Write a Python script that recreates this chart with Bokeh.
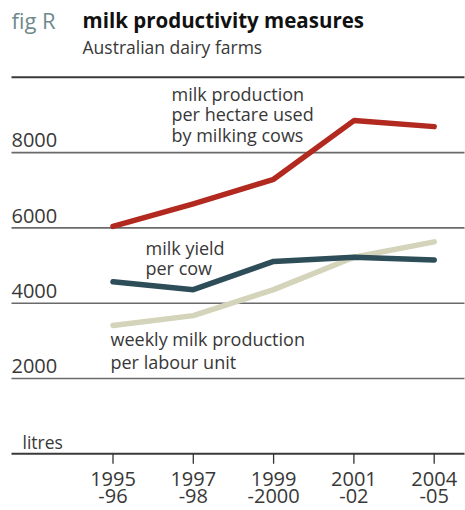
from bokeh.plotting import figure
from bokeh.models import Range1d
from bokeh.core.properties import value
from bokeh.embed import file_html
from bokeh.resources import INLINE

# Data
periods_top = ["1995", "1997", "1999", "2001", "2004"]
periods_bottom = ["-96", "-98", "-2000", "-02", "-05"]
per_hectare = [6040, 6640, 7290, 8850, 8690]
per_cow = [4570, 4360, 5110, 5220, 5150]
per_labour = [3410, 3670, 4360, 5220, 5630]
y_ticks = [2000, 4000, 6000, 8000]
y_labels = ["2000", "4000", "6000", "8000"]
grid_values = [0, 2000, 4000, 6000, 8000, 10000]

FONT = "Open Sans"
W, H = 465, 510

# Pixel layout of the plotting region mapped into data space
px0, px_step = 112.5, 80.3        # x pixel of first period, spacing
py0, py_per_1000 = 453.3, 37.65   # y pixel of zero, pixels per 1000 litres

def xd(px):
    return (px - px0) / px_step

def yd(py):
    return (py0 - py) / py_per_1000 * 1000

p = figure(width=W, height=H, output_backend="svg", toolbar_location=None,
           x_range=Range1d(xd(0), xd(W)), y_range=Range1d(yd(H), yd(0)),
           min_border=0, outline_line_color=None)
p.axis.visible = False
p.grid.visible = False
p.background_fill_color = "white"
p.border_fill_color = "white"

xs = list(range(len(periods_top)))

# Horizontal rules
left_x = xd(11)
right_x = xd(464)
for g in grid_values:
    col = "#3a3a3a" if g in (0, 10000) else "#6a6a6a"
    w = 2 if g in (0, 10000) else 1.6
    p.segment(x0=left_x, y0=g, x1=right_x, y1=g, line_color=col, line_width=w)

# Tick marks below the baseline
tick_len = 10 / py_per_1000 * 1000
p.segment(x0=xs, y0=[0] * len(xs), x1=xs, y1=[-tick_len] * len(xs),
          line_color="#333333", line_width=1.3)

# Series
p.line(xs, per_labour, line_color="#d4d4bb", line_width=5.5, line_cap="round", line_join="round")
p.line(xs, per_cow, line_color="#2d4d58", line_width=5.5, line_cap="round", line_join="round")
p.line(xs, per_hectare, line_color="#b2291f", line_width=5.5, line_cap="round", line_join="round")


def label(px, baselines, lines, size, color="#383838", align="left", style="normal"):
    # place text so that its baseline lands on the given pixel row
    shift = 0.36 * size
    xs_ = px if isinstance(px, list) else [px] * len(lines)
    p.text(x=[xd(v) for v in xs_], y=[yd(b - shift) for b in baselines], text=lines,
           text_font=value(FONT), text_font_size=f"{size}px", text_color=color,
           text_align=align, text_baseline="alphabetic", text_font_style=style)


# Y tick labels, sitting on their rules
for v, s in zip(y_ticks, y_labels):
    label(11, [py0 - v / 1000 * py_per_1000 - 5], [s], 20)
label(22, [448], ["litres"], 17.5)

# X labels (two rows)
tick_px = [px0 + i * px_step for i in xs]
label(tick_px, [486] * len(xs), periods_top, 20, align="center")
label(tick_px, [503] * len(xs), periods_bottom, 20, align="center")

# Series annotations
label(171, [100, 120, 140.5], ["milk production", "per hectare used", "by milking cows"], 18)
label(145, [254, 274], ["milk yield", "per cow"], 18)
label(110, [345, 368], ["weekly milk production", "per labour unit"], 18)

# Headings
label(11, [27], ["fig R"], 22, color="#6f8a8c")
label(82, [27], ["milk productivity measures"], 20.5, color="#111111", style="bold")
label(82, [53], ["Australian dairy farms"], 17.5)

open("out.html", "w").write(file_html(p, INLINE))
